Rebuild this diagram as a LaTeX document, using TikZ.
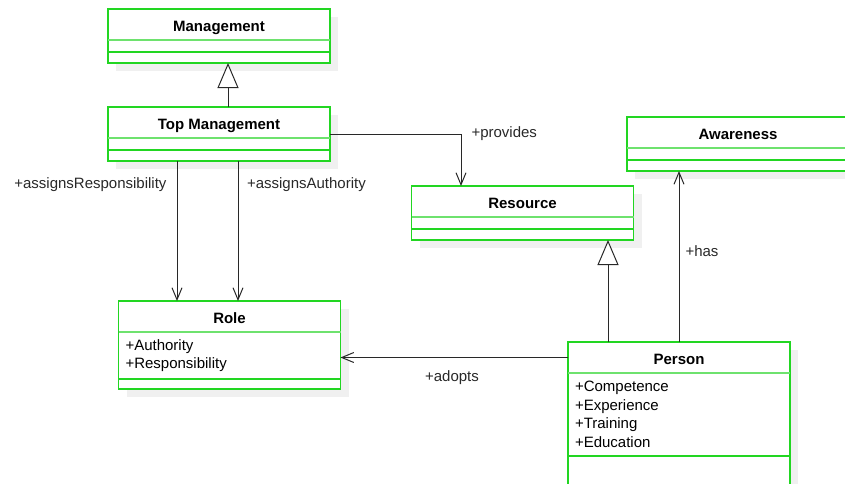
\documentclass[tikz,border=0pt]{standalone}
\usepackage{fontspec}
\setmainfont{Liberation Sans}
\usetikzlibrary{arrows.meta,positioning,backgrounds}
\definecolor{umlgreen}{RGB}{34,214,34}
\definecolor{headgreen}{RGB}{110,226,110}
\definecolor{shadowgray}{RGB}{240,240,240}
\definecolor{linegray}{RGB}{40,40,40}

\tikzset{
  classbox/.style={draw=umlgreen, line width=1.6pt, fill=white, minimum width=222pt,
    inner sep=0pt, outer sep=0pt},
  classhead/.style={classbox, minimum height=31pt, text height=13.7pt, text depth=0pt,
    font=\fontsize{15}{18}\selectfont\bfseries},
  classpart/.style={classbox, minimum height=12pt, align=left, text width=208pt,
    inner xsep=7pt, font=\fontsize{15}{18.5}\selectfont},
  classops/.style={classpart, minimum height=11pt},
  headsep/.style={draw=headgreen, line width=1.6pt},
  partsep/.style={draw=umlgreen, line width=1.6pt},
  assoc/.style={draw=linegray, line width=1pt, -{Straight Barb[length=12pt,width=10pt]}},
  inherit/.style={draw=linegray, line width=1pt, -{Triangle[open, fill=white, length=25pt, width=21pt]}},
  rolename/.style={font=\fontsize{15}{18}\selectfont, inner sep=0pt, text=linegray}
}

\begin{document}
\begin{tikzpicture}[x=1pt, y=-1pt]
\useasboundingbox (0,0) rectangle (845,483);
\clip (0,0) rectangle (845,483);

% Classes
\node[classhead, anchor=north west] (mgmt) at (108,9) {Management};
\node[classpart, below=0pt of mgmt] (mgmtattr) {};
\node[classops, below=0pt of mgmtattr] (mgmtops) {};

\node[classhead, anchor=north west] (topmgmt) at (108,107) {Top Management};
\node[classpart, below=0pt of topmgmt] (topattr) {};
\node[classops, below=0pt of topattr] (topops) {};

\node[classhead, anchor=north west] (resource) at (411.5,186) {Resource};
\node[classpart, below=0pt of resource] (resattr) {};
\node[classops, below=0pt of resattr] (resops) {};

\node[classhead, anchor=north west] (aware) at (627,117) {Awareness};
\node[classpart, below=0pt of aware] (awareattr) {};
\node[classops, below=0pt of awareattr] (awareops) {};

\node[classhead, anchor=north west] (role) at (118.5,301) {Role};
\node[classpart, minimum height=47pt, below=0pt of role] (roleattr) {+Authority\\+Responsibility};
\node[classops, minimum height=10pt, below=0pt of roleattr] (roleops) {};

\node[classhead, anchor=north west] (person) at (568,342) {Person};
\node[classpart, minimum height=83pt, below=0pt of person] (personattr) {+Competence\\+Experience\\+Training\\+Education};
\node[classops, minimum height=40pt, below=0pt of personattr] (personops) {};

% compartment lines and shadows
\foreach \c in {mgmt,topmgmt,resource,aware,role,person}
  \draw[headsep] (\c.south west) -- (\c.south east);
\foreach \c in {mgmtattr,topattr,resattr,awareattr,roleattr,personattr}
  \draw[partsep] (\c.south west) -- (\c.south east);
\begin{scope}[on background layer]
  \foreach \h/\b in {mgmt/mgmtops,topmgmt/topops,resource/resops,aware/awareops,role/roleops,person/personops}
    \fill[shadowgray] ([shift={(8,8)}]\h.north west) rectangle ([shift={(8,8)}]\b.south east);
\end{scope}

% Relations
\draw[inherit] ([xshift=9pt]topmgmt.north) -- ([xshift=9pt]mgmtops.south);
\draw[assoc] ([yshift=-11.5pt]topmgmt.east) -| ([xshift=-61.5pt]resource.north)
  node[pos=0.5, right=10pt, rolename] {+provides};
\draw[assoc] ([xshift=-42pt]topops.south) -- ([xshift=-42pt]topops.south |- role.north)
  node[pos=0.17, left=10pt, rolename] {+assignsResponsibility};
\draw[assoc] ([xshift=19pt]topops.south) -- ([xshift=19pt]topops.south |- role.north)
  node[pos=0.17, right=8.5pt, rolename] {+assignsAuthority};
\draw[inherit] ([xshift=-71pt]person.north) -- ([xshift=-71pt]person.north |- resops.south);
\draw[assoc] (person.north) -- (person.north |- awareops.south)
  node[pos=0.53, right=6pt, rolename] {+has};
\draw[assoc] (person.west) -- (person.west -| roleattr.east)
  node[pos=0.51, below=13pt, rolename] {+adopts};
\end{tikzpicture}
\end{document}
